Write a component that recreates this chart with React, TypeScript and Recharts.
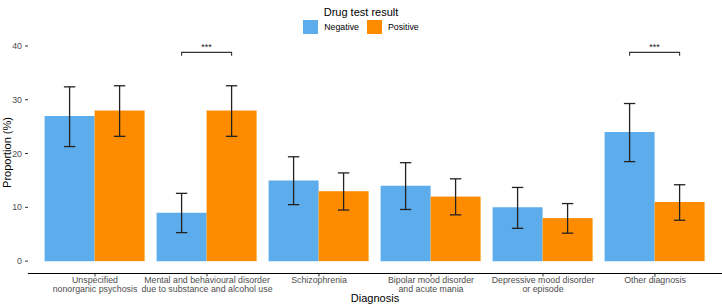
import { Bar, BarChart, ErrorBar, Label, Legend, XAxis, YAxis } from 'recharts'

const categories = [
  'Unspecified\nnonorganic psychosis',
  'Mental and behavioural disorder\ndue to substance and alcohol use',
  'Schizophrenia',
  'Bipolar mood disorder\nand acute mania',
  'Depressive mood disorder\nor episode',
  'Other diagnosis',
]

const negative = [27, 9, 15, 14, 10, 24]
const negativeLow = [21.3, 5.3, 10.5, 9.6, 6.1, 18.5]
const negativeHigh = [32.4, 12.6, 19.4, 18.3, 13.7, 29.3]

const positive = [28, 28, 13, 12, 8, 11]
const positiveLow = [23.2, 23.2, 9.5, 8.6, 5.2, 7.6]
const positiveHigh = [32.6, 32.6, 16.4, 15.3, 10.7, 14.2]

// significance marks between the two bars of a category
const significance = ['', '***', '', '', '', '***']
const bracketLevel = 38.8
const bracketTip = 38.2

const yTicks = [0, 10, 20, 30, 40]

const data = categories.map((category, i) => ({
  category,
  Negative: negative[i],
  Positive: positive[i],
  negErr: [negative[i] - negativeLow[i], negativeHigh[i] - negative[i]],
  posErr: [positive[i] - positiveLow[i], positiveHigh[i] - positive[i]],
}))

const BLUE = '#5DADEC'
const ORANGE = '#FF8C00'
const FONT = '"Liberation Sans", Arial, Helvetica, sans-serif'

function XTick(props: any) {
  const { x, y, payload } = props
  const lines = String(payload.value).split('\n')
  return (
    <text x={x} textAnchor="middle" fill="#4D4D4D" fontSize={8.8}>
      {lines.map((line, i) => (
        <tspan key={i} x={x} y={y + 4 + i * 9.5}>
          {line}
        </tspan>
      ))}
    </text>
  )
}

function PositiveShape(props: any) {
  const { x, y, width, height, fill, index, payload } = props
  const mark = significance[index]
  const base = y + height
  const perUnit = height / payload.Positive
  const yb = base - bracketLevel * perUnit
  const yt = base - bracketTip * perUnit
  const left = x - width / 2
  const right = x + width / 2
  return (
    <g>
      <rect x={x} y={y} width={width} height={height} fill={fill} />
      {mark ? (
        <g>
          <path
            d={`M${left},${yt}L${left},${yb}L${right},${yb}L${right},${yt}`}
            fill="none"
            stroke="#333"
            strokeWidth={1.1}
          />
          <text x={(left + right) / 2} y={yb - 2.4} textAnchor="middle" fontSize={9} fill="#222">
            {mark}
          </text>
        </g>
      ) : null}
    </g>
  )
}

function LegendBox(props: any) {
  const items = props.payload || []
  return (
    <div style={{ position: 'relative', width: 722, height: 38, fontFamily: FONT }}>
      <div
        style={{
          position: 'absolute',
          top: 6.5,
          width: '100%',
          textAlign: 'center',
          fontSize: 11,
          lineHeight: '11px',
          color: '#000',
        }}
      >
        Drug test result
      </div>
      <div
        style={{
          position: 'absolute',
          top: 20,
          width: '100%',
          display: 'flex',
          justifyContent: 'center',
          alignItems: 'center',
          fontSize: 8.8,
          lineHeight: '8.8px',
          color: '#000',
        }}
      >
        {items.map((item: any, i: number) => (
          <div key={i} style={{ display: 'flex', alignItems: 'center', marginRight: i === 0 ? 8 : 0 }}>
            <span style={{ display: 'inline-block', width: 15, height: 14, background: item.color, marginRight: 6 }} />
            <span>{item.value}</span>
          </div>
        ))}
      </div>
    </div>
  )
}

export default function App() {
  return (
    <div style={{ position: 'absolute', left: 0, top: 0, width: 722, height: 307, fontFamily: FONT, background: '#fff' }}>
      <BarChart
        width={722}
        height={307}
        data={data}
        margin={{ top: 39.5, right: 0, bottom: 0, left: 0 }}
        barCategoryGap="5%"
        barGap={0}
      >
        <XAxis
          dataKey="category"
          interval={0}
          padding={{ left: 11, right: 11 }}
          height={33.5}
          tickSize={3}
          tickLine={{ stroke: '#333' }}
          axisLine={{ stroke: '#000', strokeWidth: 1.1 }}
          tick={<XTick />}
        >
          <Label value="Diagnosis" position="insideBottom" offset={5} fontSize={11} fill="#000" />
        </XAxis>
        <YAxis
          type="number"
          domain={[-2.3, 41.2]}
          ticks={yTicks}
          allowDataOverflow
          axisLine={false}
          width={28}
          tickSize={3}
          tickMargin={3}
          tickLine={{ stroke: '#333' }}
          tick={{ fill: '#4D4D4D', fontSize: 8.8 }}
        >
          <Label value="Proportion (%)" angle={-90} position="center" dx={-7} dy={-4} fontSize={11} fill="#000" />
        </YAxis>
        <Legend
          layout="horizontal"
          verticalAlign="middle"
          align="center"
          wrapperStyle={{ top: 0, left: 0, width: 722, height: 38 }}
          content={<LegendBox />}
        />
        <Bar dataKey="Negative" fill={BLUE} isAnimationActive={false}>
          <ErrorBar dataKey="negErr" direction="y" width={5.7} stroke="#222" strokeWidth={1.3} />
        </Bar>
        <Bar dataKey="Positive" fill={ORANGE} isAnimationActive={false} shape={<PositiveShape />}>
          <ErrorBar dataKey="posErr" direction="y" width={5.7} stroke="#222" strokeWidth={1.3} />
        </Bar>
      </BarChart>
    </div>
  )
}
